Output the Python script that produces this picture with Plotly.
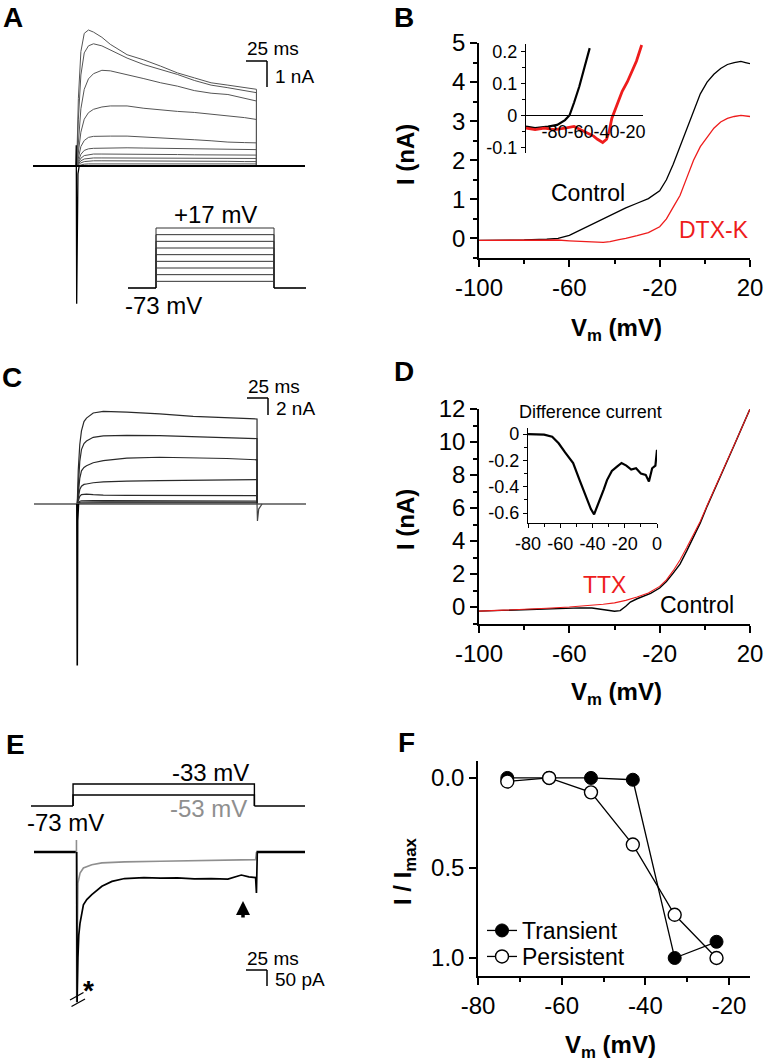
import plotly.graph_objects as go

W, H = 766, 1063
FONT = "Liberation Sans, Arial, sans-serif"

# ---------------- data ----------------
# Panel A: outward currents (nA) vs time (ms), steps from -73 mV
STEP_MS = 214
HOLD_MV = -73
A_TIME = [0, 2, 5, 9, 14, 20, 30, 40, 60, 80, 100, 120, 140, 160, 180, 200, 214]
A_SWEEPS = [
    [0, 2.6, 4.4, 5.1, 5.23, 5.15, 4.95, 4.68, 4.28, 4.08, 3.84, 3.58, 3.39, 3.2, 3.11, 3.01, 2.95],
    [0, 1.8, 3.5, 4.35, 4.62, 4.7, 4.62, 4.47, 4.15, 3.9, 3.71, 3.52, 3.29, 3.11, 3.01, 2.89, 2.82],
    [0, 0.9, 2.2, 2.95, 3.35, 3.55, 3.68, 3.66, 3.52, 3.36, 3.2, 3.07, 2.9, 2.8, 2.75, 2.6, 2.5],
    [0, 0.5, 1.3, 1.8, 2.05, 2.18, 2.27, 2.31, 2.31, 2.22, 2.15, 2.1, 2.06, 2.0, 1.94, 1.86, 1.79],
    [0, 0.3, 0.75, 0.98, 1.1, 1.14, 1.15, 1.15, 1.15, 1.12, 1.08, 1.05, 1.01, 0.97, 0.92, 0.9, 0.89],
    [0, 0.2, 0.45, 0.6, 0.66, 0.68, 0.69, 0.7, 0.7, 0.69, 0.68, 0.68, 0.67, 0.66, 0.65, 0.64, 0.63],
    [0, 0.12, 0.3, 0.4, 0.44, 0.46, 0.46, 0.46, 0.45, 0.45, 0.44, 0.44, 0.43, 0.43, 0.42, 0.42, 0.42],
    [0, 0.08, 0.2, 0.27, 0.3, 0.31, 0.31, 0.31, 0.3, 0.3, 0.3, 0.3, 0.29, 0.29, 0.29, 0.29, 0.29],
    [0, 0.05, 0.12, 0.17, 0.19, 0.2, 0.2, 0.2, 0.2, 0.19, 0.19, 0.19, 0.18, 0.18, 0.18, 0.17, 0.17],
    [0, 0.02, 0.05, 0.07, 0.08, 0.08, 0.08, 0.08, 0.08, 0.08, 0.08, 0.08, 0.08, 0.08, 0.08, 0.08, 0.08],
]
A_SPIKE_T = [-1.0, -0.5, 0.0, 0.6, 1.5, 3.0]
A_SPIKE_I = [0.0, 0.8, -5.3, -1.5, -0.3, 0.0]
A_STEP_LEVELS = [-63, -53, -43, -33, -23, -13, -3, 7, 17]
A_SCALE = (25, 1)  # ms, nA

# Panel B: I-V, control vs DTX-K
B_CTRL_V = [-100, -90, -80, -70, -65, -60, -55, -50, -45, -40, -35, -30, -25, -20, -17, -14, -11, -8, -5, -2, 1, 4, 7, 10, 13, 16, 18, 20]
B_CTRL_I = [-0.05, -0.05, -0.04, -0.02, 0.0, 0.08, 0.22, 0.37, 0.5, 0.64, 0.78, 0.9, 1.02, 1.22, 1.5, 1.9, 2.35, 2.85, 3.3, 3.7, 4.0, 4.2, 4.35, 4.45, 4.5, 4.53, 4.5, 4.47]
B_DTX_V = [-100, -90, -80, -70, -65, -60, -55, -50, -45, -42, -38, -35, -30, -25, -20, -17, -14, -11, -8, -5, -2, 1, 4, 7, 10, 13, 16, 20]
B_DTX_I = [-0.05, -0.05, -0.05, -0.04, -0.04, -0.06, -0.08, -0.09, -0.1, -0.08, -0.03, 0.0, 0.07, 0.15, 0.3, 0.5, 0.8, 1.1, 1.55, 2.0, 2.35, 2.6, 2.82, 2.98, 3.07, 3.12, 3.15, 3.12]
# inset (zoom near threshold)
BI_CTRL_V = [-102, -95, -85, -78, -72, -68.5, -65, -61, -57, -53]
BI_CTRL_I = [-0.035, -0.04, -0.035, -0.03, -0.015, 0.0, 0.04, 0.09, 0.15, 0.21]
BI_DTX_V = [-102, -95, -88, -80, -72, -65, -60, -55, -50, -47, -43, -40, -38, -36, -35, -32, -28, -24, -20, -17, -13]
BI_DTX_I = [-0.04, -0.045, -0.04, -0.045, -0.04, -0.035, -0.045, -0.055, -0.065, -0.075, -0.085, -0.075, -0.05, -0.01, 0.0, 0.03, 0.075, 0.105, 0.14, 0.17, 0.22]

# Panel C: currents (nA) vs time (ms)
C_TIME = [0, 1.2, 3, 5, 8, 11, 19, 31, 59, 98, 138, 178, 214]
C_SWEEPS = [
    [0, 4.0, 7.0, 8.6, 9.7, 10.1, 10.7, 10.9, 10.8, 10.6, 10.3, 10.1, 10.0],
    [0, 2.8, 5.0, 6.4, 7.1, 7.4, 7.84, 8.0, 8.08, 8.05, 7.9, 7.8, 7.69],
    [0, 1.7, 3.0, 3.9, 4.3, 4.5, 4.85, 5.1, 5.4, 5.5, 5.45, 5.35, 5.2],
    [0, 0.9, 1.7, 2.1, 2.3, 2.35, 2.5, 2.6, 2.7, 2.75, 2.8, 2.83, 2.86],
    [0, 0.5, 0.9, 1.1, 1.18, 1.17, 1.1, 1.04, 1.02, 1.0, 1.0, 0.99, 0.98],
    [0, 0.2, 0.33, 0.38, 0.4, 0.4, 0.39, 0.39, 0.39, 0.39, 0.38, 0.37, 0.35],
    [0, 0.12, 0.2, 0.23, 0.24, 0.24, 0.24, 0.24, 0.24, 0.24, 0.24, 0.23, 0.23],
    [0, 0.06, 0.1, 0.11, 0.12, 0.12, 0.12, 0.12, 0.12, 0.12, 0.12, 0.12, 0.12],
]
C_SPIKE_T = [-0.5, 0.0, 0.5, 1.5]
C_SPIKE_I = [0.0, -19.0, -2.0, 0.0]
C_TAIL_T = [214, 214.5, 216, 220]
C_TAIL_I = [0.0, -2.0, -0.6, 0.0]
C_SCALE = (25, 2)  # ms, nA

# Panel D: I-V, control vs TTX
D_CTRL_V = [-100, -90, -80, -70, -60, -55, -50, -46, -43, -40, -37.5, -35, -33, -30, -27, -24, -20, -17, -14, -11, -8, -5, -2, 1, 4, 7, 10, 13, 16, 20]
D_CTRL_I = [-0.25, -0.2, -0.16, -0.1, -0.05, -0.05, -0.06, -0.12, -0.2, -0.26, -0.22, 0.05, 0.3, 0.5, 0.68, 0.82, 1.15, 1.55, 2.05, 2.6, 3.4, 4.25, 5.1, 6.1, 7.0, 7.9, 8.85, 9.8, 10.75, 12.0]
D_TTX_V = [-100, -90, -80, -70, -60, -50, -45, -40, -35, -30, -25, -20, -17, -14, -11, -8, -5, -2, 1, 4, 7, 10, 13, 16, 20]
D_TTX_I = [-0.25, -0.2, -0.15, -0.08, 0.0, 0.1, 0.17, 0.25, 0.4, 0.6, 0.85, 1.25, 1.65, 2.2, 2.85, 3.6, 4.4, 5.2, 6.15, 7.05, 7.95, 8.9, 9.8, 10.75, 12.0]
# inset: difference current
D_DIFF_V = [-80, -75, -70, -65, -61, -57, -52, -48, -44, -41, -39, -37, -35, -33, -31, -28, -25, -22, -19, -16, -13, -10, -7, -5, -3, -1, 0]
D_DIFF_I = [0.0, 0.0, -0.005, -0.02, -0.07, -0.14, -0.22, -0.35, -0.48, -0.57, -0.61, -0.55, -0.48, -0.42, -0.35, -0.28, -0.25, -0.22, -0.24, -0.27, -0.26, -0.3, -0.31, -0.36, -0.26, -0.24, -0.12]

# Panel E: inward currents (pA) at -33 and -53 mV
E_B33_T = [0, 0.5, 1.5, 2.5, 4, 6, 8, 12, 18, 30, 42, 57, 80, 100, 120, 140, 160, 180, 196, 205, 213, 214, 215]
E_B33_I = [0, -470, -330, -260, -222, -186, -165, -149, -133, -107, -92, -83, -80, -82, -81, -84, -83, -85, -72, -78, -80, -128, 0]
E_G53_T = [-0.3, 0, 1.5, 4, 8, 18, 30, 57, 100, 140, 180, 213, 214]
E_G53_I = [38, -470, -97, -66, -50, -40, -34, -31, -29, -27, -26, -24, 0]
E_LEVELS = [-33, -53]
E_SCALE = (25, 50)  # ms, pA

# Panel F: normalized activation
F_V = [-73, -63, -53, -43, -33, -23]
F_TRANSIENT = [0.0, 0.0, 0.0, 0.01, 1.0, 0.91]
F_PERSISTENT = [0.02, 0.0, 0.08, 0.37, 0.76, 1.0]

# ---------------- layout helpers ----------------
AX = {}


def px_x(px):
    return px / W


def px_y(py):
    return 1 - py / H


def set_axes(layout, n, box, xr, yr, xopts=None, yopts=None):
    x0, y0, x1, y1 = box
    AX[n] = (box, xr, yr)
    sfx = "" if n == 1 else str(n)
    xa = dict(domain=[px_x(x0), px_x(x1)], range=xr, anchor="y" + sfx, automargin=False,
              fixedrange=True, showgrid=False, zeroline=False, tickangle=0)
    ya = dict(domain=[px_y(y1), px_y(y0)], range=yr, anchor="x" + sfx, automargin=False,
              fixedrange=True, showgrid=False, zeroline=False, tickangle=0)
    if xopts:
        xa.update(xopts)
    if yopts:
        ya.update(yopts)
    layout["xaxis" + sfx] = xa
    layout["yaxis" + sfx] = ya


def d2px(n, x, y):
    (x0, y0, x1, y1), xr, yr = AX[n]
    px = x0 + (x - xr[0]) / (xr[1] - xr[0]) * (x1 - x0)
    py = y1 - (y - yr[0]) / (yr[1] - yr[0]) * (y1 - y0)
    return px, py


def px2d(n, px, py):
    (x0, y0, x1, y1), xr, yr = AX[n]
    x = xr[0] + (px - x0) / (x1 - x0) * (xr[1] - xr[0])
    y = yr[0] + (y1 - py) / (y1 - y0) * (yr[1] - yr[0])
    return x, y


def labels(vals, fmt="{:g}"):
    return [fmt.format(v).replace("\u2212", "-") for v in vals]


HIDDEN = dict(visible=False)
TICKFONT = dict(family=FONT, size=24, color="black")
SMALLFONT = dict(family=FONT, size=18, color="black")


def minor(dt, t0, ln=4, wd=1.5):
    return dict(tick0=t0, dtick=dt, ticklen=ln, tickwidth=wd, ticks="outside", tickcolor="black", showgrid=False)


def shown_axis(vals, fmt="{:g}", **kw):
    d = dict(visible=True, showline=True, linecolor="black", linewidth=1.5,
             ticks="outside", ticklen=7, tickwidth=1.5, tickcolor="black",
             tickfont=TICKFONT, tickmode="array", tickvals=vals, ticktext=labels(vals, fmt))
    d.update(kw)
    return d


layout = {}
# A currents and protocol
set_axes(layout, 1, (33, 20, 306, 312), [-52.0, 273.0], [-5.615, 5.615], HIDDEN, HIDDEN)
set_axes(layout, 2, (128, 220, 306, 295), [-50.8, 272.0], [-83.5, 29.0], HIDDEN, HIDDEN)
# B main and inset
set_axes(layout, 3, (479, 43, 750, 258), [-100, 20], [-0.5, 5.0],
         shown_axis([-100, -60, -20, 20], minor=minor(20, -100)),
         shown_axis([0, 1, 2, 3, 4, 5], minor=minor(0.5, 0)))
set_axes(layout, 4, (526, 44, 643, 153), [-102, -12], [-0.118, 0.223],
         shown_axis([-80, -60, -40, -20], ticks="", tickfont=SMALLFONT, linewidth=1.3),
         shown_axis([-0.1, 0, 0.1, 0.2], ticklen=4, tickwidth=1.2, tickfont=SMALLFONT, linewidth=1.3,
                    minor=minor(0.05, 0, 3, 1)))
# C
set_axes(layout, 5, (34, 395, 306, 670), [-51.5, 272.3], [-19.53, 12.82], HIDDEN, HIDDEN)
# D main and inset
set_axes(layout, 6, (479, 409, 750, 624), [-100, 20], [-1.03, 12.0],
         shown_axis([-100, -60, -20, 20], minor=minor(20, -100)),
         shown_axis([0, 2, 4, 6, 8, 10, 12], minor=minor(1, 0)))
set_axes(layout, 7, (528, 428, 657, 523), [-80, 0], [-0.676, 0.046],
         shown_axis([-80, -60, -40, -20, 0], ticklen=4, tickwidth=1.2, linewidth=1.3, tickfont=SMALLFONT,
                    minor=minor(10, -80, 3, 1)),
         shown_axis([0, -0.2, -0.4, -0.6], ticklen=4, tickwidth=1.2, linewidth=1.3, tickfont=SMALLFONT,
                    minor=minor(0.1, 0, 3, 1)))
# E currents and protocol
set_axes(layout, 8, (33, 840, 306, 1010), [-52.0, 273.0], [-494.0, 37.5], HIDDEN, HIDDEN)
set_axes(layout, 9, (31, 770, 305, 815), [-49.6, 273.7], [-89.4, -7.5], HIDDEN, HIDDEN)
# F
set_axes(layout, 10, (478, 761, 750, 976), [-80, -15], [1.1, -0.094],
         shown_axis([-80, -60, -40, -20], minor=minor(10, -80)),
         shown_axis([0, 0.5, 1.0], fmt="{:.1f}"))

# inset B: x axis drawn at I = 0
(bx0, by0, bx1, by1), _, byr = AX[4]
zero_py = by1 - (0 - byr[0]) / (byr[1] - byr[0]) * (by1 - by0)
layout["xaxis4"].update(anchor="free", position=px_y(zero_py))

traces = []


def line(x, y, ax, color="black", width=1.2, **kw):
    sfx = "" if ax == 1 else str(ax)
    tr = go.Scatter(x=x, y=y, mode="lines", xaxis="x" + sfx, yaxis="y" + sfx,
                    line=dict(color=color, width=width), showlegend=False,
                    hoverinfo="skip", **kw)
    traces.append(tr)


# ---- Panel A ----
a_l, _ = px2d(1, 33, 0)
a_r, _ = px2d(1, 305, 0)
for sw in A_SWEEPS:
    line(A_TIME + [STEP_MS], sw + [0], 1, color="#555555", width=1)
line([a_l, a_r], [0, 0], 1, color="black", width=1.8)
line(A_SPIKE_T, A_SPIKE_I, 1, color="black", width=1.3)
p_l, _ = px2d(2, 128, 0)
p_r, _ = px2d(2, 306, 0)
for lv in A_STEP_LEVELS:
    line([0, 0, STEP_MS, STEP_MS], [HOLD_MV, lv, lv, HOLD_MV], 2, color="#333333", width=1)
line([p_l, 0], [HOLD_MV, HOLD_MV], 2, color="black", width=1.6)
line([STEP_MS, p_r], [HOLD_MV, HOLD_MV], 2, color="black", width=1.6)

# ---- Panel B ----
line(B_CTRL_V, B_CTRL_I, 3, color="black", width=1.3)
line(B_DTX_V, B_DTX_I, 3, color="#ee1c1c", width=1.3)
line(BI_CTRL_V, BI_CTRL_I, 4, color="black", width=2.2)
line(BI_DTX_V, BI_DTX_I, 4, color="#ee1c1c", width=2.8)

# ---- Panel C ----
c_l, _ = px2d(5, 34, 0)
c_r, _ = px2d(5, 306, 0)
for sw in C_SWEEPS:
    line(C_TIME + [STEP_MS], sw + [0], 5, color="#2a2a2a", width=1.2)
line([c_l, c_r], [0, 0], 5, color="#555555", width=1.6)
line(C_SPIKE_T, C_SPIKE_I, 5, color="black", width=1.6)
line(C_TAIL_T, C_TAIL_I, 5, color="#444444", width=1.2)

# ---- Panel D ----
line(D_CTRL_V, D_CTRL_I, 6, color="black", width=1.4)
line(D_TTX_V, D_TTX_I, 6, color="#ee1c1c", width=1.1)
line(D_DIFF_V, D_DIFF_I, 7, color="black", width=2.2)

# ---- Panel E ----
e_l, _ = px2d(8, 34, 0)
e_r, _ = px2d(8, 305, 0)
line([e_l, 0], [0, 0], 8, color="black", width=2.4)
line([STEP_MS, e_r], [0, 0], 8, color="black", width=2.4)
line(E_G53_T, E_G53_I, 8, color="#8f8f8f", width=1.6)
line(E_B33_T, E_B33_I, 8, color="black", width=1.7)
q_l, _ = px2d(9, 31, 0)
q_r, _ = px2d(9, 305, 0)
for lv in E_LEVELS:
    line([0, 0, STEP_MS, STEP_MS], [HOLD_MV, lv, lv, HOLD_MV], 9, color="black", width=1.4)
line([q_l, 0], [HOLD_MV, HOLD_MV], 9, color="black", width=1.4)
line([STEP_MS, q_r], [HOLD_MV, HOLD_MV], 9, color="black", width=1.4)

# ---- Panel F ----
traces.append(go.Scatter(x=F_V, y=F_TRANSIENT, mode="lines+markers", xaxis="x10", yaxis="y10",
                         name="Transient", legend="legend", line=dict(color="black", width=1.3),
                         marker=dict(symbol="circle", size=13, color="black",
                                     line=dict(color="black", width=1))))
traces.append(go.Scatter(x=F_V, y=F_PERSISTENT, mode="lines+markers", xaxis="x10", yaxis="y10",
                         name="Persistent", legend="legend2", line=dict(color="black", width=1.3),
                         marker=dict(symbol="circle", size=13, color="white",
                                     line=dict(color="black", width=1.4))))

fig = go.Figure(data=traces)
fig.update_layout(template="none")
fig.update_layout(**layout)

# ---------------- shapes (scale bars, break marks) ----------------
shapes = []


def scale_bar(ax, corner_px, lens):
    sfx = "" if ax == 1 else str(ax)
    tc, ic = px2d(ax, *corner_px)
    dt, di = lens
    shapes.append(dict(type="line", xref="x" + sfx, yref="y" + sfx, x0=tc - dt, x1=tc, y0=ic, y1=ic,
                       line=dict(color="black", width=1.5)))
    shapes.append(dict(type="line", xref="x" + sfx, yref="y" + sfx, x0=tc, x1=tc, y0=ic, y1=ic - di,
                       line=dict(color="black", width=1.5)))
    lx, _ = d2px(ax, tc - dt, ic)
    _, by = d2px(ax, tc, ic - di)
    return lx, corner_px[1], by


a_sb = scale_bar(1, (267, 61), A_SCALE)
c_sb = scale_bar(5, (268, 398), C_SCALE)
e_sb = scale_bar(8, (267, 970), E_SCALE)

for (xa, ya, xb, yb) in [(70, 1000, 83.5, 992.5), (71.5, 1006.5, 85, 999)]:
    shapes.append(dict(type="line", xref="paper", yref="paper", x0=px_x(xa), y0=px_y(ya),
                       x1=px_x(xb), y1=px_y(yb), line=dict(color="black", width=1.3)))

fig.update_layout(shapes=shapes)

# ---------------- annotations ----------------
ann = []


def text(s, px, py, size=23, color="black", bold=False, xanchor="center", angle=0):
    ann.append(dict(text=("<b>%s</b>" % s) if bold else s, x=px_x(px), y=px_y(py),
                    xref="paper", yref="paper", showarrow=False, xanchor=xanchor, yanchor="middle",
                    textangle=angle, font=dict(family=FONT, size=size, color=color)))


# panel letters
for lab, px, py in [("A", 13, 17), ("B", 404, 17), ("C", 12, 377), ("D", 404, 371), ("E", 15, 744), ("F", 406, 742)]:
    text(lab, px, py, size=28, bold=True)

# scale bar labels
for sb, s1, s2 in [(a_sb, "25 ms", "1 nA"), (c_sb, "25 ms", "2 nA"), (e_sb, "25 ms", "50 pA")]:
    lx, top, bot = sb
    text(s1, lx - 1, top - 12, size=19, xanchor="left")
    text(s2, lx + 27, (top + bot) / 2 + 2, size=19, xanchor="left")

# A protocol labels
text("+%d mV" % A_STEP_LEVELS[-1], 215, 215, size=24)
text("%d mV" % HOLD_MV, 163, 305, size=24)

# B
text("Control", 588, 193, size=23)
text("DTX-K", 714, 230, size=23, color="#ee1c1c")
text("I (nA)", 405, 155, size=24, bold=True, angle=-90)
text("V<sub>m</sub> (mV)", 616, 329, size=24, bold=True)

# D
text("Difference current", 590, 412, size=18)
text("TTX", 604, 585, size=23, color="#ee1c1c")
text("Control", 697, 605, size=23)
text("I (nA)", 405, 520, size=24, bold=True, angle=-90)
text("V<sub>m</sub> (mV)", 616, 693, size=24, bold=True)

# E
text("%d mV" % E_LEVELS[0], 210, 772, size=24)
text("%d mV" % E_LEVELS[1], 209, 808, size=24, color="#8f8f8f")
text("%d mV" % HOLD_MV, 65, 822, size=24)
text("*", 88, 990, size=28, bold=True)
ann.append(dict(x=px_x(243), y=px_y(901), xref="paper", yref="paper", text="", showarrow=True,
                ax=0, ay=18, arrowhead=2, arrowsize=0.8, arrowwidth=3.5, arrowcolor="black"))

# F
text("I / I<sub>max</sub>", 404, 871, size=24, bold=True, angle=-90)
text("V<sub>m</sub> (mV)", 610, 1046, size=24, bold=True)

fig.update_layout(annotations=ann)

LEG = dict(xanchor="left", yanchor="top", bgcolor="rgba(0,0,0,0)",
           font=dict(family=FONT, size=23, color="black"), itemwidth=30,
           borderwidth=0)
fig.update_layout(
    width=W, height=H, margin=dict(l=0, r=0, t=0, b=0, pad=0, autoexpand=False),
    paper_bgcolor="white", plot_bgcolor="rgba(0,0,0,0)",
    font=dict(family=FONT, color="black"),
    showlegend=True,
    legend=dict(x=px_x(482), y=px_y(909), **LEG),
    legend2=dict(x=px_x(482), y=px_y(935), **LEG),
)

fig.write_html("out.html", config={"displayModeBar": False},
               post_script="document.body.style.margin='0px';document.body.style.padding='0px';")
